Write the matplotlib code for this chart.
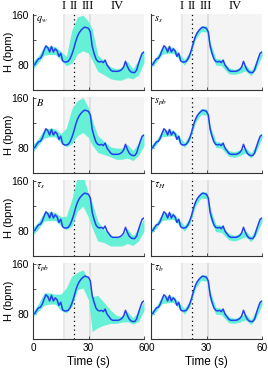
"""
Heart rate during a tilt / exercise protocol with sensitivity bands
for eight model parameters (two columns, four rows).
"""
import matplotlib
matplotlib.use("Agg")
import matplotlib.pyplot as plt

plt.rcParams['font.family'] = ['Liberation Sans', 'DejaVu Sans']
plt.rcParams['mathtext.fontset'] = 'stix'

# measured heart rate, one value per second
TIME = list(range(61))
HR = [80, 81, 86, 90, 91, 96, 104, 111, 108, 101, 110, 101, 106, 103, 94, 99,
      87, 85, 85, 86, 90, 97, 106, 117, 126, 132, 136, 139, 141, 140, 139, 133,
      110, 99, 90, 86, 85, 86, 84, 88, 80, 76, 72, 70, 70, 70, 70, 71, 73, 77,
      86, 78, 72, 69, 68, 68, 72, 82, 91, 99, 101]

KNOTS = [0, 3, 6, 9, 12, 15, 18, 21, 24, 27, 30, 32, 35, 38, 42, 45, 48, 51, 54, 57, 60]

QW_LO = [74, 84, 96, 97, 97, 89, 79, 83, 98, 103, 99, 88, 70, 65, 58, 56, 56, 60, 58, 64, 84]
QW_HI = [86, 95, 110, 110, 110, 102, 94, 136, 157, 160, 150, 138, 96, 88, 77, 74, 76, 86, 74, 88, 104]
B_LO = [74, 85, 96, 98, 98, 89, 82, 87, 100, 105, 97, 85, 73, 70, 66, 62, 62, 64, 60, 68, 84]
B_HI = [86, 96, 110, 112, 111, 103, 112, 143, 156, 161, 145, 125, 100, 92, 82, 80, 80, 86, 76, 88, 104]
TS_LO = [74, 84, 96, 97, 97, 89, 82, 88, 112, 120, 102, 85, 64, 62, 56, 56, 56, 60, 57, 64, 80]
TS_HI = [86, 95, 110, 111, 110, 103, 104, 131, 168, 170, 139, 125, 96, 84, 72, 70, 72, 84, 72, 84, 100]
TPB_LO = [76, 85, 94, 96, 96, 86, 82, 92, 119, 122, 103, 52, 58, 62, 65, 65, 67, 68, 64, 68, 86]
TPB_HI = [84, 97, 114, 114, 112, 112, 122, 141, 147, 151, 135, 108, 110, 100, 86, 78, 76, 84, 74, 84, 100]

SS_LO = [76, 85, 97, 99, 99, 90, 80, 92, 121, 134, 133, 100, 80, 79, 66, 65, 67, 71, 63, 75, 95]
SS_HI = [84, 94, 108, 109, 109, 99, 89, 101, 130, 143, 143, 117, 91, 89, 76, 73, 76, 81, 71, 86, 104]
SPB_LO = [76, 86, 98, 99, 100, 91, 81, 92, 121, 134, 133, 102, 81, 80, 67, 65, 68, 72, 64, 76, 96]
SPB_HI = [84, 94, 108, 109, 109, 100, 89, 101, 130, 143, 143, 116, 91, 89, 76, 74, 77, 81, 72, 86, 104]
TH_LO = [76, 85, 97, 98, 99, 90, 80, 91, 120, 133, 132, 99, 79, 78, 66, 64, 67, 71, 63, 75, 95]
TH_HI = [84, 94, 108, 109, 109, 99, 89, 101, 130, 143, 143, 117, 91, 89, 76, 73, 76, 81, 71, 86, 104]
TB_LO = [76, 85, 97, 98, 99, 90, 80, 92, 121, 134, 133, 101, 80, 79, 66, 65, 67, 71, 63, 75, 95]
TB_HI = [84, 94, 108, 109, 109, 99, 89, 101, 130, 143, 143, 117, 91, 89, 76, 73, 76, 81, 71, 86, 104]

LEFT_LABELS = [r'$q_w$', r'$B$', r'$\tau_s$', r'$\tau_{pb}$']
RIGHT_LABELS = [r'$s_s$', r'$s_{pb}$', r'$\tau_H$', r'$\tau_b$']
LEFT_BANDS = [(QW_LO, QW_HI), (B_LO, B_HI), (TS_LO, TS_HI), (TPB_LO, TPB_HI)]
RIGHT_BANDS = [(SS_LO, SS_HI), (SPB_LO, SPB_HI), (TH_LO, TH_HI), (TB_LO, TB_HI)]

PHASE_NAMES = ['I', 'II', 'III', 'IV']
PHASE_POS = [16.8, 22, 29.8, 45.4]
MARK_TIME = 22

LINE_COLOR = '#2340f2'
BAND_COLOR = '#66f0d6'


def draw_panel(ax, lo, hi, label, first_col, last_row, first_row):
  """ Draws one heart rate panel with its shaded sensitivity band. """
  ax.axvspan(16.5, 60, color='#f4f4f4', lw=0, zorder=0)
  ax.axvspan(16.2, 17.2, color='#e8e8e8', lw=0, zorder=0)
  ax.axvspan(30.0, 31.6, color='#dfdfdf', lw=0, zorder=0)
  ax.axvline(MARK_TIME, color='black', ls=(0, (1, 2.5)), lw=0.9, zorder=1)
  ax.fill_between(KNOTS, lo, hi, color=BAND_COLOR, lw=0, zorder=2)
  ax.plot(TIME, HR, color=LINE_COLOR, lw=1.1, zorder=3)

  ax.set_xlim(0, 60)
  ax.set_ylim(40, 162)
  ax.set_xticks([0, 30, 60])
  ax.set_yticks([80, 120, 160])
  for side in ['top', 'right']:
    ax.spines[side].set_visible(False)
  for side in ['left', 'bottom']:
    ax.spines[side].set_linewidth(0.8)
    ax.spines[side].set_color('#333333')
  ax.tick_params(direction='in', length=2.5, width=0.6, labelsize=7.5, pad=3,
                 colors='#333333', labelcolor='black')
  ax.tick_params(axis='x', labelsize=7.2)

  ax.set_yticklabels(['80', '', '160'] if first_col else [])
  if last_row:
    ax.set_xticklabels(['0', '30', '60'])
    ax.set_xlabel('Time (s)', fontsize=8.5, labelpad=2)
  else:
    ax.set_xticklabels([])
  if first_col:
    ax.set_ylabel('H (bpm)', fontsize=8)
    ax.yaxis.set_label_coords(-0.175, 0.5)

  ax.text(0.025, 0.995, label, transform=ax.transAxes, va='top', ha='left',
          fontsize=7.5)

  if first_row:
    for name, pos in zip(PHASE_NAMES, PHASE_POS):
      ax.annotate(name, xy=(pos, 1), xycoords=('data', 'axes fraction'),
                  xytext=(0, 8), textcoords='offset pixels', ha='center',
                  va='center', fontsize=9, family='Liberation Serif')


fig = plt.figure(figsize=(2.68, 3.73), dpi=100)
W, H = 268.0, 373.0
col_left = [33, 151]
row_top = [14, 97, 180, 263]
ax_w, ax_h = 111, 76

for r in range(4):
  for c in range(2):
    rect = [col_left[c] / W, (H - row_top[r] - ax_h) / H, ax_w / W, ax_h / H]
    ax = fig.add_axes(rect)
    lo, hi = (LEFT_BANDS if c == 0 else RIGHT_BANDS)[r]
    label = (LEFT_LABELS if c == 0 else RIGHT_LABELS)[r]
    draw_panel(ax, lo, hi, label, c == 0, r == 3, r == 0)

fig.savefig('out.png', dpi=100)
